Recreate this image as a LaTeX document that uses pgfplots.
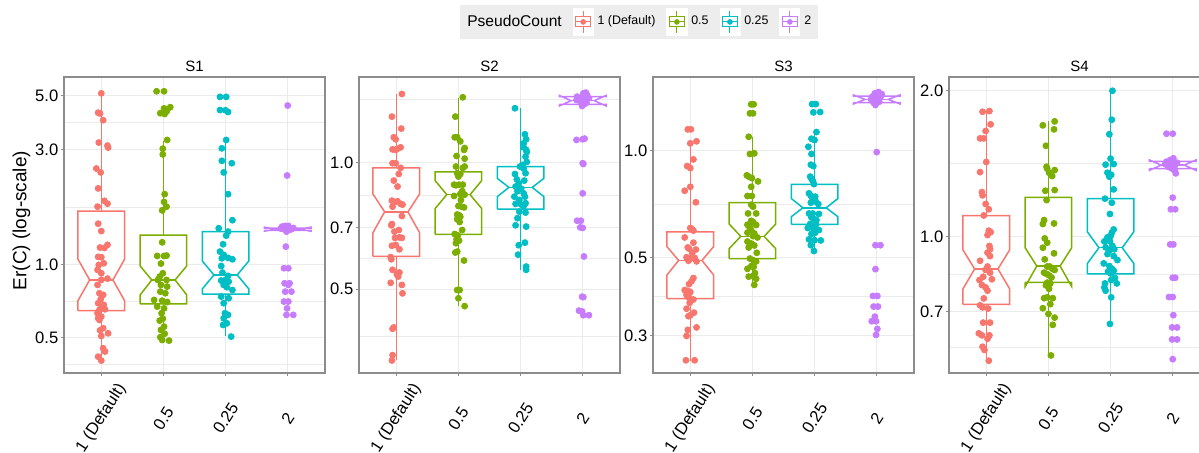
\documentclass[border=0pt]{standalone}
\usepackage{fontspec}
\setmainfont{Liberation Sans}
\usepackage{pgfplots}
\pgfplotsset{compat=1.18}

\definecolor{cR}{HTML}{F8766D}
\definecolor{cG}{HTML}{7CAE00}
\definecolor{cC}{HTML}{00BFC4}
\definecolor{cP}{HTML}{C77CFF}

% notched box: x, colour, whisker low, lower hinge, notch low, median, notch high, upper hinge, whisker high
\newcommand{\nbox}[9]{%
  \pgfmathsetmacro\bxl{#1-0.375}\pgfmathsetmacro\bxr{#1+0.375}%
  \pgfmathsetmacro\bnl{#1-0.1875}\pgfmathsetmacro\bnr{#1+0.1875}%
  \addplot[#2, line width=0.75pt, no markers, forget plot] coordinates {(#1,#3) (#1,#4)};
  \addplot[#2, line width=0.75pt, no markers, forget plot] coordinates {(#1,#8) (#1,#9)};
  \addplot[#2, line width=0.75pt, no markers, fill=white, line join=miter, forget plot] coordinates {(\bxl,#4) (\bxl,#5) (\bnl,#6) (\bxl,#7) (\bxl,#8) (\bxr,#8) (\bxr,#7) (\bnr,#6) (\bxr,#5) (\bxr,#4) (\bxl,#4)};
  \addplot[#2, line width=0.75pt, no markers, forget plot] coordinates {(\bnl,#6) (\bnr,#6)};
}

\pgfplotsset{
  facet/.style={
    scale only axis, width=130.5pt, height=148pt, anchor=south west,
    xmin=-0.6, xmax=3.6,
    xtick={0,1,2,3}, xticklabels={1 (Default),0.5,0.25,2},
    tick align=outside, tick pos=left,
    major tick length=1.65pt, minor tick length=0pt,
    tick style={black!45, line width=0.5pt},
    axis line style={black!45, line width=0.6pt},
    grid=both,
    major grid style={black!8, line width=0.55pt},
    minor grid style={black!8, line width=0.3pt},
    xticklabel style={rotate=57, anchor=center, font=\fontsize{8.3}{9}\selectfont},
    xticklabel shift=21pt,
    yticklabel style={font=\fontsize{8.3}{9}\selectfont, inner sep=1pt},
    title style={at={(0.5,1)}, anchor=base, yshift=-3.3pt, font=\fontsize{7.5}{9}\selectfont},
  },
  pts/.style={only marks, mark=*, mark size=1.5pt, mark options={draw=none}, forget plot},
  boxkey/.style={legend image code/.code={%
    \fill[white] (0pt,-6.75pt) rectangle (10pt,6.75pt);
    \draw[line width=0.5pt] (5pt,2.5pt) -- (5pt,5.5pt) (5pt,-2.5pt) -- (5pt,-5.5pt);
    \draw[line width=0.5pt, fill=white] (1.25pt,-2.5pt) rectangle (8.75pt,2.5pt);
    \draw[line width=0.5pt] (1.25pt,0pt) -- (8.75pt,0pt);
    \fill (5pt,0pt) circle (1.2pt);
  }},
}

\begin{document}
\begin{tikzpicture}
\useasboundingbox (0,0) rectangle (599.5pt,226.5pt);

% ---------------- S1 ----------------
\begin{axis}[facet, ymode=log, at={(32pt,40pt)}, title={S1},
  ymin=0.358, ymax=5.97,
  ytick={0.5,1,3,5}, yticklabels={0.5,1.0,3.0,5.0},
  minor ytick={0.39,0.7071,1.732,3.873},
  ylabel={Er(C) (log-scale)},
  ylabel style={at={(axis description cs:-0.163,0.515)}, anchor=center, font=\fontsize{9.5}{11}\selectfont},
  legend columns=5,
  legend cell align=left,
  legend style={at={(axis description cs:2.204,1.186)}, anchor=center, fill=black!7, draw=none,
    inner sep=1.5pt, font=\fontsize{6.2}{7}\selectfont,
    /tikz/every even column/.append style={column sep=3.5pt}},
]
\addlegendimage{empty legend}\addlegendentry{\fontsize{7.8}{9}\selectfont PseudoCount}
\addlegendimage{boxkey, cR}\addlegendentry{1 (Default)}
\addlegendimage{boxkey, cG}\addlegendentry{0.5}
\addlegendimage{boxkey, cC}\addlegendentry{0.25}
\addlegendimage{boxkey, cP}\addlegendentry{2}

\nbox{0}{cR}{0.403}{0.648}{0.712}{0.867}{1.056}{1.666}{5.11}
\nbox{1}{cG}{0.487}{0.690}{0.752}{0.867}{0.990}{1.326}{3.26}
\nbox{2}{cC}{0.509}{0.757}{0.796}{0.909}{1.039}{1.372}{3.30}
\nbox{3}{cP}{1.390}{1.390}{1.378}{1.404}{1.432}{1.418}{1.418}

\addplot[pts, cR] coordinates {
(0.00,5.11)(-0.05,4.25)(-0.02,4.22)(0.03,3.96)(-0.04,3.20)(0.10,3.11)(0.11,3.05)
(-0.08,2.50)(-0.01,2.41)(-0.05,2.07)(0.05,1.84)(0.10,1.79)(-0.06,1.74)(-0.05,1.48)
(0.00,1.38)(0.10,1.21)(-0.02,1.18)(0.05,1.175)(-0.05,1.08)(0.00,1.076)(-0.04,1.00)
(0.04,1.016)(-0.06,0.954)(0.00,0.924)(0.10,0.878)(0.00,0.867)(-0.06,0.827)(-0.03,0.764)
(0.03,0.752)(-0.01,0.722)(-0.05,0.695)(0.04,0.684)(0.00,0.662)(-0.03,0.652)(0.06,0.656)
(-0.06,0.632)(0.00,0.612)(-0.03,0.593)(-0.05,0.602)(0.03,0.548)(-0.02,0.537)(0.11,0.522)
(0.00,0.509)(0.03,0.453)(0.06,0.439)(-0.05,0.418)(0.00,0.403)};
\addplot[pts, cG] coordinates {
(0.89,5.21)(1.01,5.21)(0.95,4.23)(1.02,4.20)(1.05,4.30)(1.11,4.48)(1.01,4.43)(1.06,4.36)
(1.06,3.28)(0.99,3.02)(0.99,2.86)(1.02,1.96)(1.01,1.82)(1.05,1.74)(0.98,1.68)(0.98,1.24)
(0.90,1.089)(1.01,1.089)(1.05,1.093)(0.96,1.013)(0.99,0.924)(0.94,0.895)(1.05,0.867)
(0.91,0.867)(0.96,0.827)(1.06,0.814)(0.95,0.776)(1.03,0.764)(0.85,0.717)(0.98,0.712)
(1.06,0.703)(0.90,0.673)(1.01,0.662)(0.97,0.632)(0.99,0.600)(0.94,0.589)(1.01,0.556)
(0.96,0.539)(1.02,0.520)(0.95,0.503)(0.98,0.490)(1.09,0.487)};
\addplot[pts, cC] coordinates {
(1.91,4.94)(2.01,4.94)(1.91,4.36)(2.00,4.35)(2.04,4.28)(2.01,3.28)(1.94,3.03)(1.94,2.69)
(2.10,2.63)(1.97,2.41)(2.04,1.96)(2.11,1.53)(1.89,1.417)(2.04,1.373)(2.01,1.321)(1.96,1.217)
(1.91,1.135)(1.97,1.10)(1.94,1.065)(2.04,1.069)(2.11,1.055)(1.93,0.99)(1.95,0.93)(2.04,0.901)
(2.00,0.867)(1.93,0.862)(2.05,0.853)(1.97,0.827)(2.02,0.809)(2.11,0.788)(1.93,0.740)
(2.05,0.729)(1.97,0.695)(1.99,0.632)(2.04,0.622)(1.97,0.602)(2.02,0.574)(1.96,0.565)(2.09,0.506)};
\addplot[pts, cP] coordinates {
(3.00,4.55)(2.99,2.34)(2.91,1.44)(2.96,1.449)(3.00,1.43)(3.04,1.417)(3.02,1.395)(2.94,1.404)
(2.98,1.373)(3.06,1.404)(2.89,1.413)(3.09,1.421)(3.01,1.449)(2.97,1.19)(2.94,0.969)(3.01,0.969)
(2.95,0.84)(3.03,0.84)(3.01,0.827)(2.96,0.776)(3.06,0.776)(2.94,0.706)(3.01,0.706)(2.99,0.662)
(2.98,0.622)(3.09,0.622)};
\end{axis}

% ---------------- S2 ----------------
\begin{axis}[facet, ymode=log, at={(179.5pt,40pt)}, title={S2},
  ymin=0.3166, ymax=1.593,
  ytick={0.5,0.7,1}, yticklabels={0.5,0.7,1.0},
  minor ytick={0.3873,0.5916,0.8367,1.4142},
]
\nbox{0}{cR}{0.339}{0.598}{0.681}{0.763}{0.841}{0.970}{1.452}
\nbox{1}{cG}{0.456}{0.675}{0.777}{0.838}{0.905}{0.949}{1.423}
\nbox{2}{cC}{0.554}{0.775}{0.829}{0.872}{0.916}{0.977}{1.343}
\nbox{3}{cP}{1.372}{1.372}{1.360}{1.400}{1.440}{1.432}{1.432}

\addplot[pts, cR] coordinates {
(0.09,1.452)(-0.07,1.283)(0.08,1.202)(-0.04,1.146)(-0.01,1.134)(-0.06,1.073)(0.02,1.077)
(0.07,1.085)(-0.01,1.070)(-0.06,0.995)(-0.01,0.995)(0.07,0.970)(0.04,0.938)(-0.04,0.905)
(0.02,0.876)(-0.07,0.811)(-0.02,0.805)(0.02,0.808)(0.07,0.797)(0.10,0.794)(-0.06,0.785)
(0.09,0.746)(-0.07,0.714)(-0.08,0.709)(0.04,0.691)(-0.03,0.685)(0.05,0.664)(-0.02,0.662)
(0.09,0.662)(-0.07,0.634)(-0.01,0.637)(0.05,0.622)(-0.09,0.596)(-0.08,0.589)(-0.06,0.556)
(0.05,0.548)(0.01,0.543)(0.03,0.536)(-0.09,0.518)(0.09,0.512)(0.10,0.489)(-0.04,0.406)
(-0.06,0.403)(-0.06,0.349)(-0.07,0.339)};
\addplot[pts, cG] coordinates {
(1.07,1.426)(0.95,1.283)(0.94,1.146)(0.98,1.146)(1.03,1.121)(1.10,1.081)(1.09,1.070)(0.97,1.035)
(1.10,1.020)(0.96,0.977)(1.10,0.977)(1.07,0.970)(0.98,0.942)(1.03,0.938)(1.00,0.925)(0.93,0.885)
(0.96,0.882)(1.01,0.885)(1.07,0.885)(1.06,0.854)(1.10,0.838)(1.03,0.841)(0.93,0.832)(1.04,0.814)
(1.00,0.788)(1.05,0.785)(1.09,0.782)(0.98,0.752)(1.01,0.749)(1.03,0.743)(0.98,0.733)(1.02,0.722)
(0.94,0.676)(0.99,0.671)(1.06,0.691)(0.97,0.657)(1.01,0.652)(0.96,0.643)(0.98,0.614)(0.95,0.611)
(1.09,0.585)(0.98,0.498)(1.02,0.498)(1.00,0.476)(1.10,0.456)};
\addplot[pts, cC] coordinates {
(1.91,1.343)(2.07,1.165)(2.09,1.134)(2.05,1.109)(2.05,1.085)(2.09,1.070)(2.10,1.058)(2.08,1.031)
(2.10,1.002)(2.03,0.986)(1.99,0.977)(2.05,0.966)(2.08,0.942)(1.91,0.938)(1.94,0.911)(2.06,0.905)
(1.97,0.892)(1.92,0.876)(2.01,0.866)(1.95,0.854)(2.05,0.844)(2.07,0.829)(1.90,0.829)(1.98,0.814)
(2.08,0.800)(1.92,0.797)(2.01,0.794)(2.05,0.788)(1.98,0.764)(2.08,0.760)(1.95,0.737)(1.92,0.709)
(2.09,0.704)(2.07,0.645)(1.97,0.636)(1.96,0.604)(2.09,0.566)(2.09,0.556)};
\addplot[pts, cP] coordinates {
(2.91,1.431)(2.96,1.418)(3.00,1.410)(3.04,1.405)(3.07,1.444)(3.01,1.457)(2.98,1.390)(3.06,1.385)
(2.95,1.400)(3.03,1.375)(2.99,1.360)(2.90,1.405)(3.10,1.418)(3.02,1.426)(3.05,1.463)
(2.90,1.130)(3.00,1.134)(3.03,1.138)(3.00,0.995)(3.01,0.991)(3.00,0.844)(2.91,0.727)(2.97,0.727)
(2.96,0.701)(3.00,0.699)(3.02,0.598)(2.99,0.480)(3.01,0.479)(2.94,0.445)(2.99,0.443)(3.01,0.434)(3.10,0.434)};
\end{axis}

% ---------------- S3 ----------------
\begin{axis}[facet, ymode=log, at={(326.5pt,40pt)}, title={S3},
  ymin=0.2357, ymax=1.615,
  ytick={0.3,0.5,1}, yticklabels={0.3,0.5,1.0},
  minor ytick={0.3873,0.7071},
]
\nbox{0}{cR}{0.255}{0.382}{0.446}{0.490}{0.536}{0.590}{1.037}
\nbox{1}{cG}{0.417}{0.496}{0.529}{0.573}{0.621}{0.713}{1.09}
\nbox{2}{cC}{0.521}{0.619}{0.651}{0.690}{0.733}{0.803}{1.129}
\nbox{3}{cP}{1.366}{1.366}{1.355}{1.396}{1.437}{1.427}{1.427}

\addplot[pts, cR] coordinates {
(-0.04,1.149)(0.01,1.149)(0.00,1.049)(0.10,1.063)(0.05,0.945)(-0.05,0.905)(0.00,0.893)(-0.09,0.771)
(0.00,0.791)(0.09,0.715)(0.00,0.605)(0.03,0.600)(0.05,0.595)(-0.09,0.569)(-0.04,0.533)(0.05,0.550)
(-0.02,0.529)(0.09,0.526)(0.03,0.513)(-0.06,0.500)(0.01,0.496)(0.07,0.498)(-0.03,0.489)(0.10,0.487)
(0.05,0.437)(0.02,0.428)(-0.02,0.420)(-0.09,0.404)(-0.04,0.402)(0.00,0.399)(-0.06,0.392)(-0.02,0.385)
(-0.05,0.389)(0.05,0.380)(-0.01,0.372)(-0.06,0.358)(0.06,0.349)(0.00,0.343)(-0.03,0.341)(-0.04,0.312)
(0.10,0.317)(-0.06,0.300)(-0.07,0.256)(0.07,0.256)};
\addplot[pts, cG] coordinates {
(0.98,1.352)(1.02,1.352)(0.96,1.275)(1.01,1.275)(0.94,1.095)(0.96,0.979)(1.03,0.983)(0.91,0.852)
(0.94,0.845)(0.99,0.837)(1.09,0.819)(0.98,0.791)(0.92,0.745)(0.99,0.745)(0.98,0.704)(1.01,0.695)
(0.93,0.665)(1.06,0.665)(0.98,0.634)(0.97,0.621)(0.92,0.618)(1.01,0.629)(1.06,0.617)(0.95,0.610)
(0.98,0.597)(0.92,0.587)(1.03,0.584)(1.01,0.574)(1.08,0.569)(0.92,0.554)(0.98,0.547)(1.03,0.540)
(0.94,0.533)(1.07,0.515)(0.96,0.496)(1.01,0.491)(1.06,0.487)(0.98,0.472)(1.02,0.470)(0.92,0.464)
(1.04,0.451)(1.01,0.443)(0.94,0.441)(1.06,0.435)(1.03,0.418)};
\addplot[pts, cC] coordinates {
(1.96,1.354)(2.02,1.354)(1.98,1.283)(2.09,1.286)(2.03,1.129)(2.00,1.072)(1.95,1.081)(1.90,1.026)
(1.95,0.979)(1.94,0.913)(1.98,0.905)(1.93,0.845)(1.95,0.834)(1.97,0.823)(1.91,0.758)(1.99,0.805)
(1.94,0.746)(2.01,0.742)(1.97,0.726)(1.94,0.713)(2.02,0.718)(2.06,0.707)(1.91,0.665)(1.97,0.665)
(2.07,0.663)(1.95,0.648)(2.00,0.640)(2.03,0.637)(1.93,0.621)(2.02,0.618)(1.89,0.605)(1.97,0.605)
(2.07,0.597)(2.01,0.587)(1.95,0.582)(1.91,0.562)(2.00,0.559)(2.10,0.558)(1.94,0.541)(1.99,0.521)};
\addplot[pts, cP] coordinates {
(2.93,1.421)(2.97,1.452)(3.02,1.436)(3.06,1.415)(2.99,1.390)(3.04,1.375)(2.95,1.366)(2.98,1.346)
(3.08,1.445)(2.91,1.396)(3.03,1.464)
(3.00,0.991)(2.98,0.541)(3.06,0.541)(2.98,0.463)(2.94,0.389)(3.01,0.389)(2.95,0.363)(3.02,0.363)
(2.97,0.340)(2.92,0.330)(2.99,0.330)(3.01,0.314)(2.99,0.302)};
\end{axis}

% ---------------- S4 ----------------
\begin{axis}[facet, ymode=log, at={(474.5pt,40pt)}, title={S4},
  ymin=0.5235, ymax=2.135,
  ytick={0.7,1,2}, yticklabels={0.7,1.0,2.0},
  minor ytick={0.5916,0.8367,1.4142},
]
\nbox{0}{cR}{0.555}{0.725}{0.781}{0.858}{0.939}{1.105}{1.813}
\nbox{1}{cG}{0.569}{0.805}{0.789}{0.870}{0.949}{1.205}{1.735}
\nbox{2}{cC}{0.661}{0.838}{0.880}{0.949}{1.024}{1.198}{2.0}
\nbox{3}{cP}{1.381}{1.381}{1.370}{1.405}{1.440}{1.430}{1.430}

\addplot[pts, cR] coordinates {
(-0.06,1.810)(0.05,1.816)(0.07,1.705)(-0.01,1.652)(-0.10,1.595)(-0.04,1.595)(0.00,1.426)(-0.10,1.359)
(-0.07,1.236)(-0.06,1.217)(-0.01,1.168)(0.04,1.139)(-0.04,1.106)(0.04,1.029)(0.07,1.022)(0.02,1.008)
(0.05,0.957)(0.06,0.942)(0.02,0.927)(0.06,0.912)(-0.10,0.892)(0.02,0.868)(-0.01,0.854)(0.06,0.843)
(-0.05,0.827)(-0.11,0.814)(0.09,0.817)(-0.07,0.795)(-0.01,0.786)(0.02,0.774)(-0.04,0.746)(-0.10,0.722)
(-0.06,0.715)(0.03,0.711)(-0.05,0.665)(0.06,0.665)(-0.12,0.632)(-0.07,0.626)(0.05,0.626)(0.02,0.616)
(-0.06,0.593)(-0.03,0.584)(0.04,0.555)};
\addplot[pts, cG] coordinates {
(0.91,1.697)(1.10,1.729)(1.09,1.665)(0.96,1.540)(0.97,1.394)(0.98,1.381)(1.10,1.372)(1.01,1.355)
(1.06,1.334)(0.95,1.244)(1.10,1.248)(0.97,1.190)(0.93,1.082)(0.91,1.062)(1.09,1.065)(0.94,0.992)
(0.98,0.972)(0.91,0.949)(1.09,0.924)(0.94,0.898)(0.98,0.868)(1.02,0.868)(1.06,0.859)(1.10,0.854)
(0.93,0.843)(0.97,0.838)(1.01,0.832)(1.05,0.824)(0.98,0.804)(1.03,0.801)(0.96,0.794)(1.01,0.781)
(0.93,0.747)(0.98,0.750)(1.07,0.747)(1.03,0.726)(0.91,0.712)(1.00,0.693)(1.10,0.681)(1.07,0.658)(1.04,0.569)};
\addplot[pts, cC] coordinates {
(2.03,2.000)(2.02,1.743)(1.98,1.627)(2.00,1.449)(1.92,1.408)(2.05,1.412)(1.95,1.355)(2.01,1.342)
(1.98,1.330)(2.05,1.252)(1.91,1.198)(2.02,1.175)(1.99,1.114)(2.05,1.035)(2.02,1.019)(2.00,1.003)
(1.95,0.997)(1.90,0.978)(1.99,0.978)(2.03,0.957)(1.92,0.951)(1.98,0.936)(2.06,0.942)(1.95,0.921)
(2.05,0.912)(2.11,0.895)(1.89,0.881)(1.98,0.870)(2.02,0.859)(1.96,0.848)(2.05,0.851)(2.00,0.840)
(2.07,0.822)(2.01,0.814)(2.10,0.801)(1.91,0.801)(1.90,0.786)(1.92,0.774)(2.01,0.750)(1.99,0.661)};
\addplot[pts, cP] coordinates {
(2.90,1.631)(3.00,1.631)(2.90,1.428)(2.96,1.439)(3.00,1.417)(3.04,1.406)(3.07,1.421)(2.93,1.394)
(2.98,1.383)(3.03,1.372)(2.95,1.406)(3.05,1.351)(3.01,1.451)(2.88,1.412)
(3.00,1.204)(2.97,1.139)(3.04,1.139)(2.96,0.964)(3.01,0.964)(3.00,0.823)(3.04,0.823)(2.94,0.751)
(3.00,0.751)(3.01,0.689)(2.99,0.650)(3.07,0.650)(2.99,0.614)(3.07,0.614)(3.00,0.559)};
\end{axis}
\end{tikzpicture}
\end{document}
